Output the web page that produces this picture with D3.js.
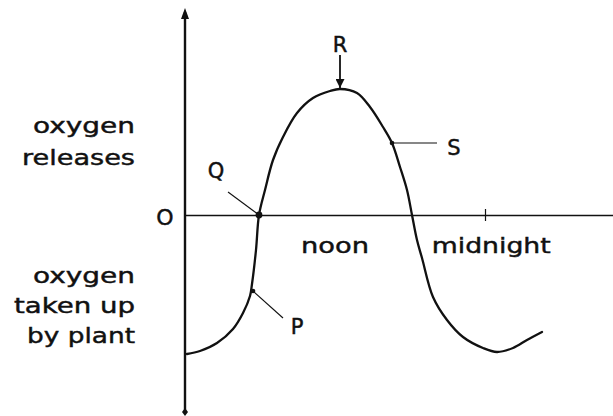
<!DOCTYPE html>
<html>
<head>
<meta charset="utf-8">
<script src="https://cdn.jsdelivr.net/npm/d3@7"></script>
<style>
  html, body { margin: 0; padding: 0; background: #fff; }
  svg { display: block; }
  text { font-family: "DejaVu Sans", sans-serif; fill: #111; stroke: #111; stroke-width: 0.45px; }
</style>
</head>
<body>
<svg id="chart" width="613" height="416"></svg>
<script>
// ---- data (hours from start of axis, oxygen exchange in arbitrary units) ----
const hours = [0.16, 1.2, 2.56, 3.84, 4.64, 5.2, 5.36, 5.68, 5.92, 6.4, 7.04, 7.84, 8.96, 10.24, 11.6, 12.4,
               13.76, 14.8, 15.84, 16.56, 17.2, 17.76, 18.16, 18.56, 18.96, 19.84, 20.96, 22.24, 23.84, 24.96,
               26.24, 27.36, 28.56];
const oxygen = [-13.9, -13.6, -12.8, -11.4, -9.8, -8.1, -6.9, -3.5, 0, 2.5, 5.5, 7.8, 10.2, 11.7, 12.4, 12.6,
                12.2, 10.8, 8.8, 7.2, 4.8, 2.5, 0, -2.5, -4.3, -8.2, -10.5, -12.2, -13.3, -13.7,
                -13.3, -12.5, -11.7];
const pointNames = ["P", "Q", "R", "S"];
const pointHours = [5.44, 5.92, 12.4, 16.56];
const pointValues = [-7.6, 0, 12.6, 7.2];
const timeLabels = ["noon", "midnight"];
const timeLabelHours = [12, 24.5];
const tickHours = [24];
const upperLabel = ["oxygen", "releases"];
const lowerLabel = ["oxygen", "taken up", "by plant"];
const originLabel = "O";

// ---- scales ----
const svg = d3.select("#chart");
const x = d3.scaleLinear().domain([0, 34.24]).range([185, 613]);
const y = d3.scaleLinear().domain([-19.8, 20.7]).range([413, 8]);

const defs = svg.append("defs");
defs.append("marker").attr("id", "arrowHead").attr("viewBox", "0 0 10 10")
  .attr("refX", 10).attr("refY", 5).attr("markerWidth", 9).attr("markerHeight", 9)
  .attr("markerUnits", "userSpaceOnUse").attr("orient", "auto")
  .append("path").attr("d", "M0,0 L10,5 L0,10 Z").attr("fill", "#111");

// ---- axes ----
const x0 = x(0);
const yTop = y(y.domain()[1]);
const yBot = y(y.domain()[0]);
svg.append("line")
  .attr("x1", x0).attr("x2", x0)
  .attr("y1", yTop + 4).attr("y2", yBot - 2)
  .attr("stroke", "#111").attr("stroke-width", 2.4);
svg.append("path")
  .attr("d", `M${x0 - 4},${yTop + 11} L${x0},${yTop} L${x0 + 4},${yTop + 11} Z`)
  .attr("fill", "#111");
svg.append("path")
  .attr("d", `M${x0},${yBot - 5} L${x0 + 3},${yBot - 1} L${x0},${yBot + 3} L${x0 - 3},${yBot - 1} Z`)
  .attr("fill", "#111");

const xAxis = d3.axisBottom(x).tickValues(tickHours).tickFormat("").tickSizeInner(6).tickSizeOuter(0);
const gx = svg.append("g").attr("transform", `translate(0,${y(0)})`).call(xAxis);
gx.select(".domain").attr("stroke", "#111").attr("stroke-width", 1.3);
gx.selectAll(".tick line").attr("y1", -6).attr("y2", 6).attr("stroke", "#111").attr("stroke-width", 1.2);

// ---- curve ----
const data = hours.map((h, i) => [h, oxygen[i]]);
const line = d3.line().x(d => x(d[0])).y(d => y(d[1])).curve(d3.curveCatmullRom.alpha(0.5));
svg.append("path").datum(data).attr("d", line)
  .attr("fill", "none").attr("stroke", "#111").attr("stroke-width", 2.3)
  .attr("stroke-linecap", "round");

// ---- points and annotations ----
const fs = 21;
const pts = pointNames.map((n, i) => ({ name: n, px: x(pointHours[i]), py: y(pointValues[i]) }));
const ann = {
  P: { lx: 30, ly: 27, tx: 44, ty: 43 },
  Q: { lx: -31, ly: -23, tx: -43, ty: -37 },
  R: { lx: 0, ly: -34, tx: 0, ty: -37 },
  S: { lx: 45, ly: 0, tx: 62, ty: 12 }
};
pts.forEach(p => {
  const a = ann[p.name];
  if (p.name === "R") {
    svg.append("line").attr("x1", p.px + a.lx).attr("y1", p.py + a.ly)
      .attr("x2", p.px).attr("y2", p.py - 1)
      .attr("stroke", "#111").attr("stroke-width", 1.8).attr("marker-end", "url(#arrowHead)");
  } else {
    svg.append("line").attr("x1", p.px + a.lx).attr("y1", p.py + a.ly)
      .attr("x2", p.px).attr("y2", p.py)
      .attr("stroke", "#111").attr("stroke-width", 1.1);
    svg.append("circle").attr("cx", p.px).attr("cy", p.py).attr("r", p.name === "Q" ? 3.4 : 2.3).attr("fill", "#111");
  }
  svg.append("text").attr("x", p.px + a.tx).attr("y", p.py + a.ty)
    .attr("text-anchor", "middle").attr("font-size", fs).text(p.name);
});

// ---- time labels ----
const tfs = 22;
const timeWidths = { "noon": 68, "midnight": 119 };
timeLabels.forEach((t, i) => {
  svg.append("text").attr("x", x(timeLabelHours[i])).attr("y", y(0) + 38)
    .attr("text-anchor", "middle").attr("font-size", tfs)
    .attr("textLength", timeWidths[t]).attr("lengthAdjust", "spacingAndGlyphs").text(t);
});

// ---- y-side labels ----
const sideWidths = { "oxygen": 102, "releases": 113, "taken up": 121, "by plant": 108 };
const rightEdge = 135;
upperLabel.forEach((t, i) => {
  svg.append("text").attr("x", rightEdge).attr("y", 133 + i * 32)
    .attr("text-anchor", "end").attr("font-size", tfs)
    .attr("textLength", sideWidths[t]).attr("lengthAdjust", "spacingAndGlyphs").text(t);
});
lowerLabel.forEach((t, i) => {
  svg.append("text").attr("x", rightEdge).attr("y", 283 + i * 30)
    .attr("text-anchor", "end").attr("font-size", tfs)
    .attr("textLength", sideWidths[t]).attr("lengthAdjust", "spacingAndGlyphs").text(t);
});
svg.append("text").attr("x", x0 - 20).attr("y", y(0) + 10)
  .attr("text-anchor", "middle").attr("font-size", 22).text(originLabel);
</script>
</body>
</html>
